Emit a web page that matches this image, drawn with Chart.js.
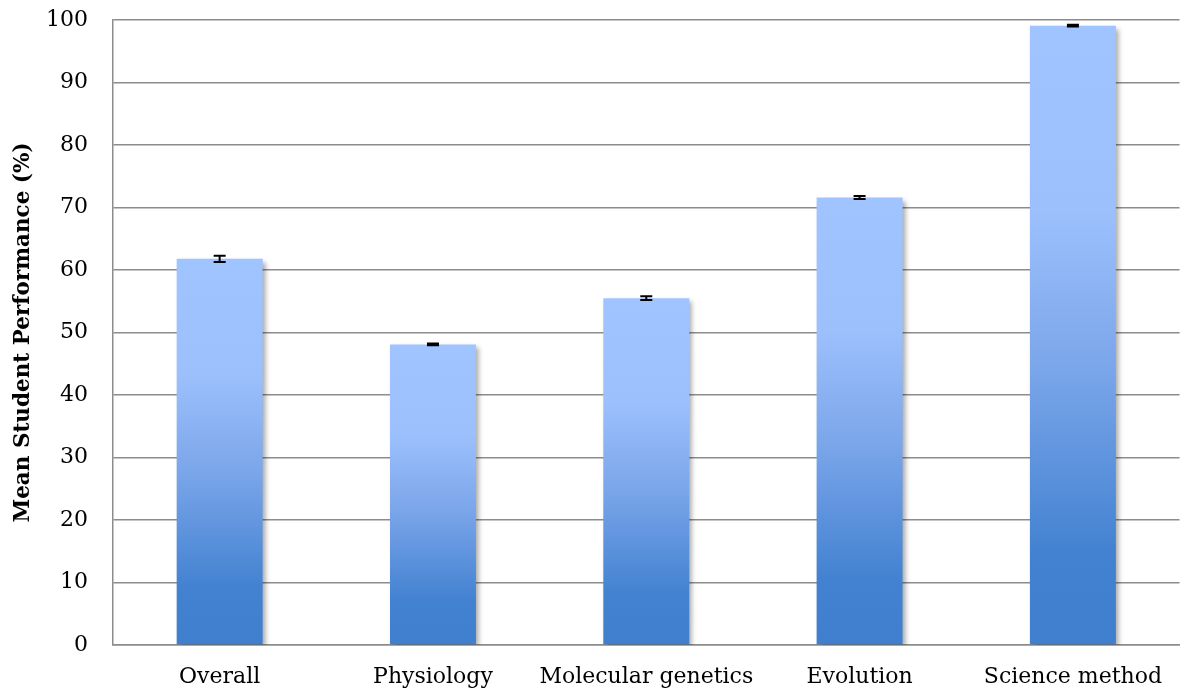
<!DOCTYPE html>
<html>
<head>
<meta charset="utf-8">
<script src="https://cdn.jsdelivr.net/npm/chart.js@4/dist/chart.umd.min.js"></script>
<style>
  html, body { margin: 0; padding: 0; background: #fff; }
  #wrap { width: 1181px; height: 695px; }
</style>
</head>
<body>
<div id="wrap"><canvas id="c" width="1181" height="695"></canvas></div>
<script>
const categories = ["Overall", "Physiology", "Molecular genetics", "Evolution", "Science method"];
const meanValues = [61.8, 48.1, 55.5, 71.6, 99.1];
const errorValues = [0.5, 0.15, 0.3, 0.25, 0.15];
const yTicks = [0, 10, 20, 30, 40, 50, 60, 70, 80, 90, 100];
const yTitle = "Mean Student Performance (%)";

const FONT = "'DejaVu Serif', serif";

function barGradient(ctx) {
  const chart = ctx.chart;
  if (!chart.chartArea || ctx.dataIndex === undefined) return '#7AA5E9';
  const y = chart.scales.y;
  const top = y.getPixelForValue(meanValues[ctx.dataIndex]);
  const bottom = y.getPixelForValue(0);
  const g = chart.ctx.createLinearGradient(0, top, 0, bottom);
  g.addColorStop(0, '#A0C4FF');
  g.addColorStop(0.3, '#9CC0FC');
  g.addColorStop(0.55, '#7BA6EA');
  g.addColorStop(0.85, '#4382D1');
  g.addColorStop(1, '#3F7FCD');
  return g;
}

const shadowPlugin = {
  id: 'barShadow',
  beforeDatasetsDraw(chart) {
    const c = chart.ctx;
    c.save();
    c.shadowColor = 'rgba(0,0,0,0.35)';
    c.shadowBlur = 5;
    c.shadowOffsetX = 3;
    c.shadowOffsetY = 3;
  },
  afterDatasetsDraw(chart) {
    chart.ctx.restore();
  }
};

const errorBarPlugin = {
  id: 'errorBars',
  afterDatasetsDraw(chart) {
    const c = chart.ctx;
    const meta = chart.getDatasetMeta(0);
    const y = chart.scales.y;
    c.save();
    c.strokeStyle = '#000';
    c.lineWidth = 2;
    meta.data.forEach((bar, i) => {
      const x = bar.x;
      const hi = y.getPixelForValue(meanValues[i] + errorValues[i]);
      const lo = y.getPixelForValue(meanValues[i] - errorValues[i]);
      c.beginPath();
      c.moveTo(x, hi); c.lineTo(x, lo);
      c.moveTo(x - 6, hi); c.lineTo(x + 6, hi);
      c.moveTo(x - 6, lo); c.lineTo(x + 6, lo);
      c.stroke();
    });
    c.restore();
  }
};

new Chart(document.getElementById('c'), {
  type: 'bar',
  data: {
    labels: categories,
    datasets: [{
      data: meanValues,
      backgroundColor: barGradient,
      borderWidth: 0,
      categoryPercentage: 1,
      barPercentage: 0.403
    }]
  },
  options: {
    responsive: false,
    animation: false,
    devicePixelRatio: 1,
    layout: { padding: { top: 20, right: 0, left: 0, bottom: 0 } },
    plugins: { legend: { display: false }, tooltip: { enabled: false } },
    scales: {
      x: {
        grid: { display: false, drawTicks: false },
        border: { color: '#8c8c8c', width: 1.5 },
        ticks: { color: '#000', font: { family: FONT, size: 22 }, padding: 19, maxRotation: 0, autoSkip: false },
        afterFit(s) { s.height = 50; }
      },
      y: {
        min: 0, max: 100,
        afterBuildTicks(s) { s.ticks = yTicks.map(v => ({ value: v })); },
        grid: { color: '#8c8c8c', lineWidth: 1.5, drawTicks: false },
        border: { color: '#8c8c8c', width: 1.5 },
        ticks: { color: '#000', font: { family: FONT, size: 22 }, padding: 25 },
        title: { display: true, text: yTitle, color: '#000', font: { family: FONT, size: 21.5, weight: 'bold' }, padding: { top: 11, bottom: 0 } },
        afterFit(s) { s.width = 113; s.paddingTop = 0; s.paddingBottom = 0; }
      }
    }
  },
  plugins: [shadowPlugin, errorBarPlugin]
});
</script>
</body>
</html>
